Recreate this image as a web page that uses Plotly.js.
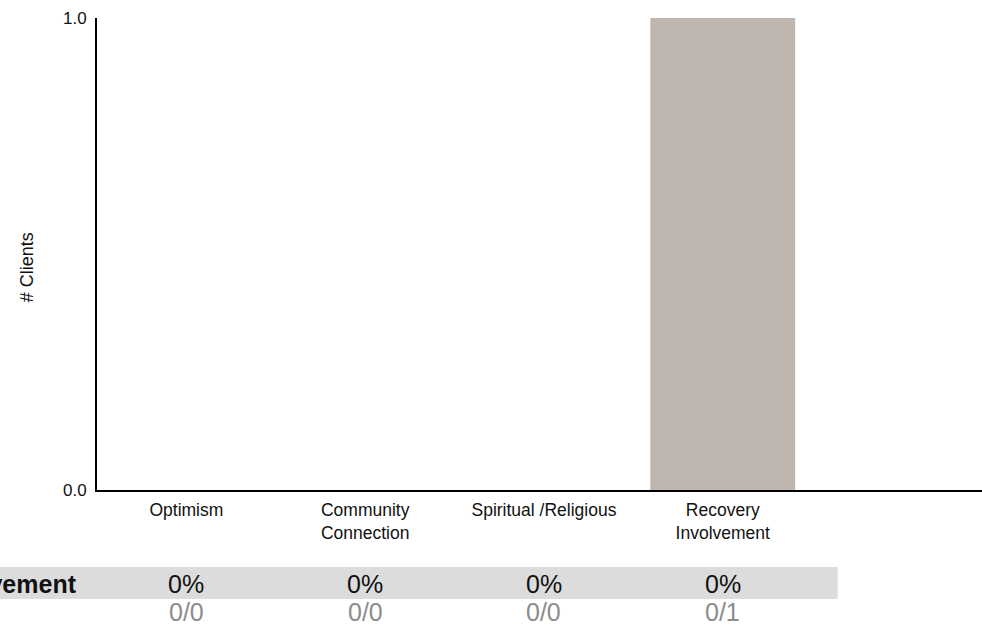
<!DOCTYPE html>
<html>
<head>
<meta charset="utf-8">
<script src="https://cdn.plot.ly/plotly-3.0.1.min.js"></script>
<style>html,body{margin:0;padding:0;background:#fff;}#chart{width:982px;height:626px;}</style>
</head>
<body>
<div id="chart"></div>
<script>
var categories = ['Optimism', 'Community<br>Connection', 'Spiritual /Religious', 'Recovery<br>Involvement'];
var clients = [0, 0, 0, 1];
var rowLabel = 'Improvement';
var pctLabels = ['0%', '0%', '0%', '0%'];
var fracLabels = ['0/0', '0/0', '0/0', '0/1'];
var yTickVals = [0, 1];
var yTickText = ['0.0', '1.0'];

var FONT = 'Liberation Sans, Arial, sans-serif';

var annotations = [];
// row label (partly cut off at the left edge, as in the reference)
annotations.push({
  xref: 'paper', yref: 'paper', x: -0.0203, y: -0.199,
  xanchor: 'right', yanchor: 'middle', showarrow: false,
  text: '<b>' + rowLabel + '</b>',
  font: {family: FONT, size: 25, color: '#111'}
});
for (var i = 0; i < categories.length; i++) {
  annotations.push({
    xref: 'x', yref: 'paper', x: i, y: -0.199,
    xanchor: 'center', yanchor: 'middle', showarrow: false,
    text: pctLabels[i], font: {family: FONT, size: 25, color: '#111'}
  });
  annotations.push({
    xref: 'x', yref: 'paper', x: i, y: -0.258,
    xanchor: 'center', yanchor: 'middle', showarrow: false,
    text: fracLabels[i], font: {family: FONT, size: 25, color: '#8c8c8c'}
  });
}
// y axis title
annotations.push({
  xref: 'paper', yref: 'paper', x: -0.079, y: 0.472,
  xanchor: 'center', yanchor: 'middle', showarrow: false, textangle: -90,
  text: '# Clients', font: {family: FONT, size: 18, color: '#111'}
});

var trace = {
  type: 'bar',
  x: categories,
  y: clients,
  width: 0.81,
  marker: {color: '#bfb6b0', line: {width: 0}},
  hoverinfo: 'none'
};

var layout = {
  width: 982, height: 626,
  margin: {l: 97, r: 0, t: 18, b: 136, pad: 0},
  paper_bgcolor: '#fff', plot_bgcolor: '#fff',
  showlegend: false,
  font: {family: FONT, color: '#111'},
  xaxis: {
    type: 'category',
    range: [-0.5, 4.45],
    showgrid: false, zeroline: false,
    showline: true, linecolor: '#000', linewidth: 2,
    ticks: '', ticklabelstandoff: 3,
    tickfont: {family: FONT, size: 17.5, color: '#111'},
    fixedrange: true
  },
  yaxis: {
    range: [0, 1],
    tickvals: yTickVals, ticktext: yTickText,
    showgrid: false, zeroline: false,
    showline: true, linecolor: '#000', linewidth: 2,
    ticks: '', ticklabelstandoff: 5,
    tickfont: {family: FONT, size: 17, color: '#111'},
    fixedrange: true
  },
  shapes: [{
    type: 'rect', xref: 'paper', yref: 'paper',
    x0: -0.1096, x1: 0.837, y0: -0.231, y1: -0.163,
    fillcolor: '#dcdcdc', line: {width: 0}, layer: 'below'
  }],
  annotations: annotations
};

Plotly.newPlot('chart', [trace], layout, {displayModeBar: false, staticPlot: true});
</script>
</body>
</html>
